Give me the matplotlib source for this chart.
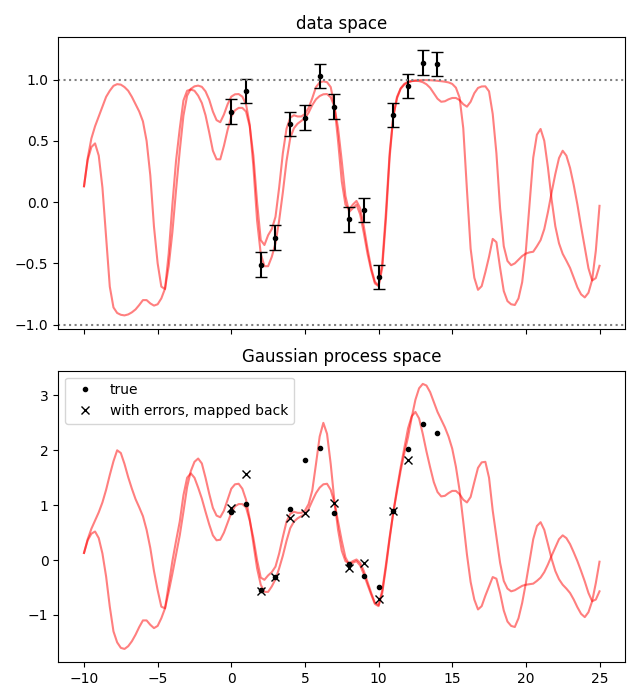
import numpy as np
import matplotlib
matplotlib.use("Agg")
from matplotlib import pyplot as plt

# sample grid for the two GP draws (step 0.25)
xs = np.linspace(-10, 25, 141)

# GP space samples (bottom panel), one row per unit of x
gp_a = [0.13, 0.38, 0.57, 0.72,   # -10
        0.87, 1.05, 1.28, 1.55,   # -9
        1.80, 2.00, 1.95, 1.75,   # -8
        1.51, 1.30, 1.11, 0.96,   # -7
        0.80, 0.55, 0.22, -0.20,  # -6
        -0.55, -0.85, -0.88, -0.45,  # -5
        -0.02, 0.35, 0.70, 1.18,  # -4
        1.50, 1.58, 1.50, 1.32,   # -3
        1.12, 0.88, 0.65, 0.45,   # -2
        0.36, 0.37, 0.50, 0.68,   # -1
        0.86, 0.98, 1.02, 1.02,   # 0
        0.96, 0.72, 0.40, 0.00,   # 1
        -0.32, -0.36, -0.28, -0.22,  # 2
        -0.12, 0.12, 0.42, 0.70,  # 3
        0.84, 0.88, 0.86, 0.86,   # 4
        0.90, 1.02, 1.27, 1.75,   # 5
        2.25, 2.50, 2.30, 1.75,   # 6
        1.08, 0.55, 0.17, -0.02,  # 7
        -0.06, -0.02, 0.01, -0.05,  # 8
        -0.20, -0.40, -0.60, -0.78,  # 9
        -0.82, -0.55, -0.08, 0.42,  # 10
        0.87, 1.30, 1.69, 2.05,   # 11
        2.40, 2.62, 2.70, 2.58,   # 12
        2.30, 1.98, 1.69, 1.42,   # 13
        1.24, 1.16, 1.17, 1.22,   # 14
        1.26, 1.26, 1.20, 1.10,   # 15
        1.05, 1.15, 1.42, 1.68,   # 16
        1.78, 1.79, 1.50, 0.90,   # 17
        0.42, -0.05, -0.38, -0.52,  # 18
        -0.57, -0.55, -0.51, -0.47,  # 19
        -0.45, -0.44, -0.43, -0.38,  # 20
        -0.32, -0.22, -0.08, 0.08,  # 21
        0.23, 0.38, 0.45, 0.40,   # 22
        0.29, 0.14, -0.02, -0.20,  # 23
        -0.39, -0.60, -0.75, -0.72,  # 24
        -0.57]
gp_b = [0.13, 0.36, 0.48, 0.52,
        0.40, 0.12, -0.30, -0.85,
        -1.30, -1.50, -1.60, -1.62,
        -1.57, -1.48, -1.36, -1.22,
        -1.10, -1.10, -1.18, -1.24,
        -1.20, -1.06, -0.88, -0.58,
        -0.25, 0.10, 0.45, 0.88,
        1.33, 1.62, 1.79, 1.85,
        1.76, 1.50, 1.21, 0.95,
        0.81, 0.78, 0.90, 1.10,
        1.30, 1.38, 1.39, 1.30,
        1.10, 0.75, 0.30, -0.15,
        -0.45, -0.58, -0.58, -0.48,
        -0.35, -0.15, 0.08, 0.35,
        0.58, 0.70, 0.76, 0.80,
        0.84, 0.93, 1.08, 1.22,
        1.32, 1.38, 1.39, 1.28,
        1.05, 0.70, 0.35, 0.05,
        -0.08, -0.05, -0.02, -0.10,
        -0.26, -0.45, -0.63, -0.80,
        -0.84, -0.60, -0.14, 0.38,
        0.87, 1.25, 1.63, 1.95,
        2.24, 2.60, 2.92, 3.13,
        3.21, 3.18, 3.06, 2.88,
        2.70, 2.56, 2.42, 2.25,
        2.03, 1.70, 1.27, 0.70,
        0.10, -0.40, -0.72, -0.90,
        -0.84, -0.65, -0.48, -0.31,
        -0.34, -0.60, -0.92, -1.12,
        -1.20, -1.22, -1.06, -0.78,
        -0.42, -0.02, 0.38, 0.62,
        0.69, 0.55, 0.29, 0.02,
        -0.20, -0.35, -0.45, -0.52,
        -0.60, -0.72, -0.86, -0.98,
        -1.04, -0.95, -0.75, -0.42,
        -0.03]

# the same draws seen in data space (top panel)
data_a = [0.13, 0.36, 0.52, 0.62,
          0.70, 0.78, 0.86, 0.91,
          0.95, 0.964, 0.96, 0.94,
          0.91, 0.86, 0.80, 0.74,
          0.66, 0.50, 0.22, -0.20,
          -0.50, -0.69, -0.71, -0.42,
          -0.02, 0.34, 0.60, 0.83,
          0.91, 0.92, 0.91, 0.87,
          0.81, 0.71, 0.57, 0.42,
          0.35, 0.35, 0.46, 0.59,
          0.70, 0.75, 0.77, 0.77,
          0.74, 0.62, 0.38, 0.00,
          -0.31, -0.35, -0.27, -0.22,
          -0.12, 0.12, 0.40, 0.60,
          0.69, 0.71, 0.70, 0.70,
          0.72, 0.77, 0.85, 0.94,
          0.978, 0.987, 0.98, 0.94,
          0.79, 0.50, 0.17, -0.02,
          -0.06, -0.02, 0.01, -0.05,
          -0.20, -0.38, -0.54, -0.65,
          -0.68, -0.50, -0.08, 0.40,
          0.70, 0.86, 0.93, 0.967,
          0.984, 0.989, 0.991, 0.989,
          0.98, 0.963, 0.934, 0.89,
          0.845, 0.82, 0.824, 0.84,
          0.851, 0.851, 0.834, 0.80,
          0.78, 0.82, 0.89, 0.933,
          0.945, 0.946, 0.905, 0.72,
          0.40, -0.05, -0.36, -0.48,
          -0.515, -0.50, -0.47, -0.44,
          -0.42, -0.41, -0.405, -0.36,
          -0.31, -0.22, -0.08, 0.08,
          0.23, 0.36, 0.42, 0.38,
          0.28, 0.14, -0.02, -0.20,
          -0.37, -0.54, -0.64, -0.62,
          -0.52]
data_b = [0.13, 0.345, 0.45, 0.48,
          0.38, 0.12, -0.29, -0.69,
          -0.86, -0.905, -0.92, -0.925,
          -0.917, -0.90, -0.876, -0.84,
          -0.80, -0.80, -0.827, -0.845,
          -0.834, -0.786, -0.706, -0.523,
          -0.245, 0.10, 0.42, 0.706,
          0.87, 0.925, 0.946, 0.952,
          0.942, 0.905, 0.837, 0.74,
          0.67, 0.653, 0.716, 0.80,
          0.862, 0.881, 0.883, 0.862,
          0.80, 0.635, 0.291, -0.149,
          -0.422, -0.523, -0.523, -0.446,
          -0.336, -0.149, 0.08, 0.336,
          0.523, 0.604, 0.641, 0.664,
          0.686, 0.731, 0.793, 0.84,
          0.867, 0.881, 0.883, 0.856,
          0.782, 0.604, 0.336, 0.05,
          -0.08, -0.05, -0.02, -0.10,
          -0.254, -0.422, -0.558, -0.664,
          -0.686, -0.537, -0.139, 0.363,
          0.701, 0.848, 0.926, 0.96,
          0.978, 0.989, 0.994, 0.996,
          0.997, 0.997, 0.996, 0.994,
          0.991, 0.988, 0.984, 0.978,
          0.966, 0.935, 0.854, 0.604,
          0.10, -0.38, -0.617, -0.716,
          -0.686, -0.572, -0.446, -0.30,
          -0.327, -0.537, -0.726, -0.808,
          -0.834, -0.84, -0.786, -0.653,
          -0.397, -0.02, 0.363, 0.551,
          0.598, 0.501, 0.282, 0.02,
          -0.197, -0.336, -0.422, -0.478,
          -0.537, -0.617, -0.696, -0.753,
          -0.778, -0.74, -0.635, -0.397,
          -0.03]

# observations
x_obs = np.arange(15)
y_obs = [0.74, 0.91, -0.51, -0.29, 0.64, 0.69, 1.03, 0.78, -0.14, -0.065,
         -0.61, 0.71, 0.95, 1.14, 1.13]
y_err = 0.1
f_true = [0.88, 1.02, -0.55, -0.31, 0.93, 1.82, 2.05, 0.86, -0.07, -0.29,
          -0.50, 0.90, 2.03, 2.48, 2.32]
f_back = [0.95, 1.57, -0.56, -0.30, 0.76, 0.85, np.nan, 1.04, -0.14, -0.06,
          -0.71, 0.90, 1.82, np.nan, np.nan]

fig, (ax1, ax2) = plt.subplots(2, 1, sharex=True, figsize=(6.4, 7), dpi=100)
fig.subplots_adjust(left=0.091, right=0.977, top=0.947, bottom=0.054, hspace=0.144)

ax1.plot(xs, data_a, 'r', alpha=0.5)
ax1.plot(xs, data_b, 'r', alpha=0.5)
ax1.errorbar(x_obs, y_obs, yerr=y_err, fmt='k.', capsize=4)
ax1.axhline(1, color='gray', ls=':')
ax1.axhline(-1, color='gray', ls=':')
ax1.set_title('data space')

ax2.plot(xs, gp_a, 'r', alpha=0.5)
ax2.plot(xs, gp_b, 'r', alpha=0.5)
ax2.plot(x_obs, f_true, 'k.', label='true')
ax2.plot(x_obs, f_back, 'kx', label='with errors, mapped back')
ax2.legend(loc='upper left')
ax2.set_title('Gaussian process space')

plt.savefig('out.png')
